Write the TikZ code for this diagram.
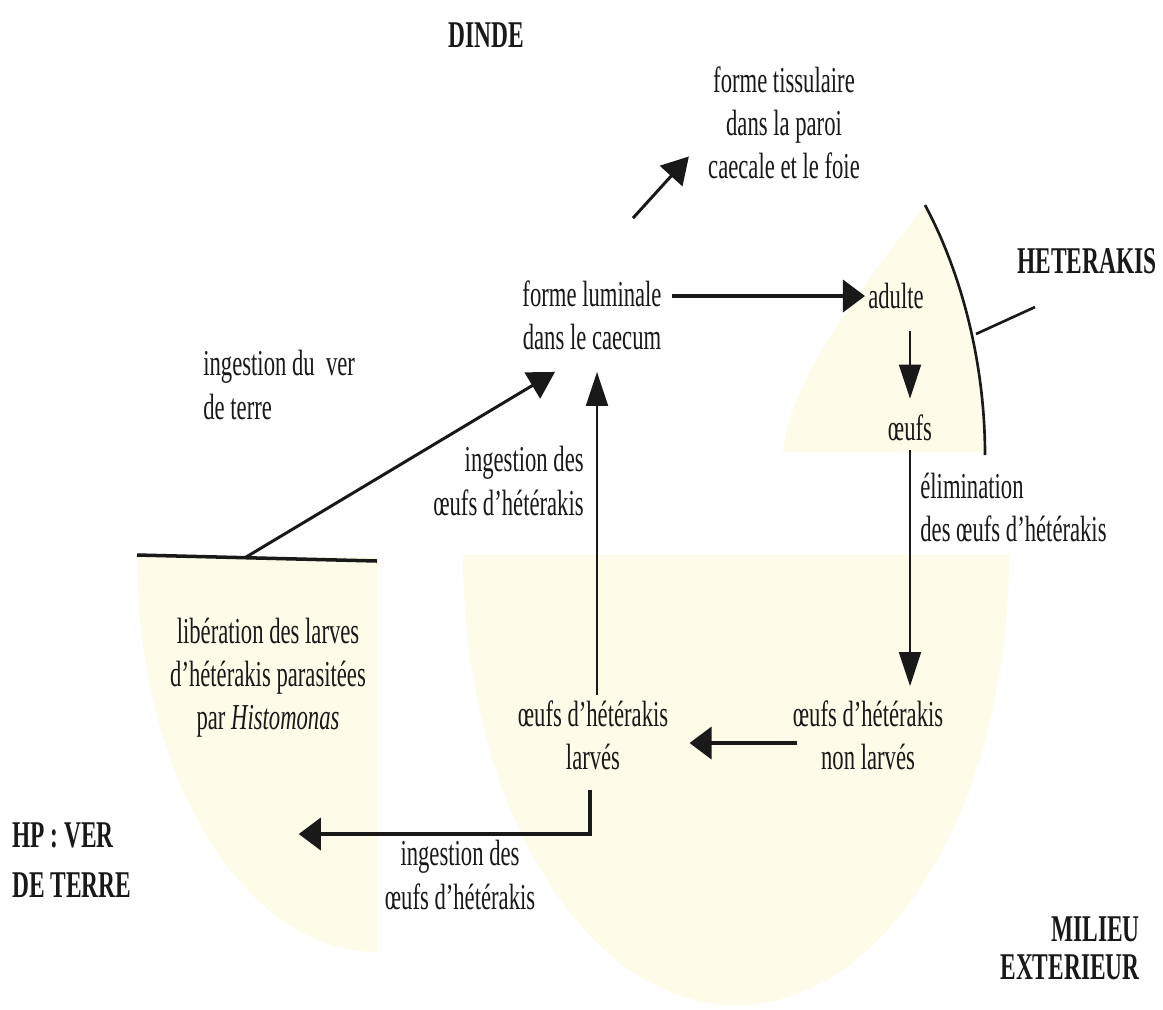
\documentclass[tikz,border=0pt]{standalone}
\usepackage{fontspec}
\setmainfont{Liberation Serif}[FakeStretch=0.62]
\usetikzlibrary{arrows.meta, calc}

\definecolor{encre}{RGB}{25,25,25}
\definecolor{jaune}{RGB}{252,252,233}

\begin{document}
\begin{tikzpicture}[
	x=0.02cm, y=-0.02cm,
	every node/.style={inner sep=0pt, text=encre, align=center, font=\fontsize{20.8}{24.5}\selectfont},
	titre/.style={font=\fontsize{21.5}{24.5}\selectfont\bfseries},
	zone/.style={fill=jaune, draw=none},
	fleche/.style={draw=encre},
	hfleche/.style={fleche, line width=2.1pt, -{Triangle[length=0.44cm, width=0.64cm]}},
	vfleche/.style={fleche, line width=1.1pt, -{Triangle[length=0.68cm, width=0.44cm]}},
	dfleche/.style={fleche, line width=1.7pt, -{Triangle[length=0.53cm, width=0.6cm]}},
	bord/.style={draw=encre, line width=1.5pt}
	]
	
	\useasboundingbox (0,0) rectangle (1163,1009);
	\fill[white] (0,0) rectangle (1163,1009);
	
	% --- zones (ver de terre, milieu exterieur, heterakis) ---
	\fill[zone] (137,557) -- (377,557) -- (377,952) .. controls (244,952) and (137,775) .. cycle;
	\fill[zone] (463,555) .. controls (463,804) and (585,1005) .. (736,1005) .. controls (887,1005) and (1009,804) .. (1009,555) -- cycle;
	\fill[zone] (783,452) .. controls (790,380) and (860,290) .. (925,205) .. controls (960,270) and (985,360) .. (985,452) -- cycle;
	
	% --- textes ---
	\node[titre] (dinde) at (486,35) {DINDE};
	\node (tissu) at (784,123) {forme tissulaire\\dans la paroi\\caecale et le foie};
	\node (lumen) at (592,315) {forme luminale\\dans le caecum};
	\node (adulte) at (896,296) {adulte};
	\node[titre] (heterakis) at (1087,261) {HETERAKIS};
	\node (oeufs) at (910,428) {œufs};
	\node[anchor=west, align=left] (elim) at (920,507) {élimination\\des œufs d’hétérakis};
	\node (nonlarv) at (868,735) {œufs d’hétérakis\\non larvés};
	\node (larv) at (593,735) {œufs d’hétérakis\\larvés};
	\node[anchor=east, align=right] (ingup) at (584,481) {ingestion des\\œufs d’hétérakis};
	\node[anchor=west, align=left] (ingver) at (203,385) {ingestion du\ \ ver\\de terre};
	\node (liber) at (268,678) {libération des larves\\d’hétérakis parasitées\\par \textit{Histomonas}};
	\node[titre, anchor=west, align=left, font=\fontsize{21.5}{28.5}\selectfont\bfseries] (hp) at (12,860) {HP : VER\\DE TERRE};
	\node (ingbot) at (460,875) {ingestion des\\œufs d’hétérakis};
	\node[titre, anchor=east, align=right, font=\fontsize{21.5}{21.6}\selectfont\bfseries] (milieu) at (1140,948) {MILIEU\\EXTERIEUR};
	
	% --- limites ---
	\coordinate (sol-g) at (137,555);
	\coordinate (sol-d) at (377,561);
	\coordinate (arc-h) at (976,334);
	\draw[bord, line width=2pt] (sol-g) -- (sol-d);
	\draw[bord] (925,205) .. controls (960,270) and (985,360) .. (985,455);
	\draw[bord] (arc-h) -- ($(heterakis.south west)+(18,33)$);
	
	% --- cycle ---
	\draw[dfleche] ($(lumen.north)+(41,-62)$) -- ($(tissu.south west)+(-19,-23)$);
	\draw[hfleche] ($(lumen.east |- adulte)+(10,0)$) -- ($(adulte.west)+(-3,0)$);
	\draw[vfleche] ($(adulte.south -| oeufs)+(0,22)$) -- ($(oeufs.north)+(0,-16)$);
	\draw[vfleche] ($(oeufs.south)+(0,9)$) -- ($(oeufs |- nonlarv.north)+(0,-14)$);
	\draw[hfleche] ($(nonlarv.west)+(5,8)$) -- ($(larv.east)+(21,8)$);
	\draw[vfleche] ($(larv.north)+(4,-5)$) -- ($(lumen.south)+(5,22)$);
	\draw[hfleche] ($(larv.south)+(-3,20)$) |- ($(hp.east)+(167,-26)$);
	\draw[dfleche] ($(sol-g)!0.45!(sol-d)$) -- ($(lumen.south)+(-37,22)$);
	
\end{tikzpicture}
\end{document}
